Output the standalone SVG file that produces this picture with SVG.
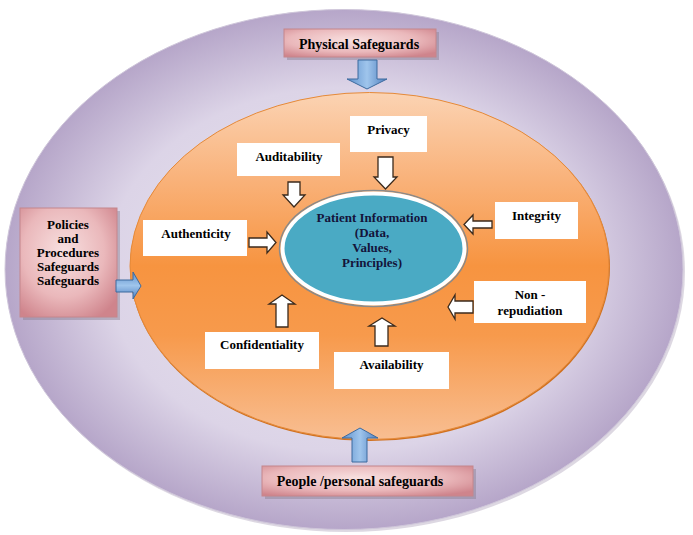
<svg xmlns="http://www.w3.org/2000/svg" width="693" height="535" viewBox="0 0 693 535">
  <defs>
    <radialGradient id="gOuter" cx="0.5" cy="0.5" r="0.5">
      <stop offset="0" stop-color="#ebe7f1"/>
      <stop offset="0.7" stop-color="#dcd4e7"/>
      <stop offset="1" stop-color="#b6a6c9"/>
    </radialGradient>
    <linearGradient id="gOrange" x1="0" y1="0" x2="0" y2="1">
      <stop offset="0" stop-color="#fbd3b3"/>
      <stop offset="0.25" stop-color="#f9b27a"/>
      <stop offset="0.5" stop-color="#f79440"/>
      <stop offset="0.7" stop-color="#f79a4c"/>
      <stop offset="1" stop-color="#f8be92"/>
    </linearGradient>
    <radialGradient id="gPink" cx="0.45" cy="0.4" r="0.7">
      <stop offset="0" stop-color="#f8e0e0"/>
      <stop offset="0.6" stop-color="#eab8bb"/>
      <stop offset="1" stop-color="#cf848c"/>
    </radialGradient>
    <linearGradient id="gBlueV" x1="0" y1="0" x2="1" y2="0">
      <stop offset="0" stop-color="#5d8fcb"/>
      <stop offset="0.5" stop-color="#9fc5ec"/>
      <stop offset="1" stop-color="#4f7fbf"/>
    </linearGradient>
    <linearGradient id="gBlueH" x1="0" y1="0" x2="0" y2="1">
      <stop offset="0" stop-color="#5d8fcb"/>
      <stop offset="0.5" stop-color="#9fc5ec"/>
      <stop offset="1" stop-color="#4f7fbf"/>
    </linearGradient>
  </defs>
  <style>
    .pink { fill: url(#gPink); stroke: #c4868c; stroke-width: 1; }
    .shadow { fill: #8a7f90; opacity: 0.45; }
    .label { fill: #ffffff; }
    .t { font-family: "Liberation Serif", "Times New Roman", serif; font-weight: bold; font-size: 13px; fill: #000; text-anchor: middle; }
    .tb { font-size: 14px; }
    .tc { fill: #14143a; }
    .warr { fill: #ffffff; stroke: #3b2a1c; stroke-width: 1.3; stroke-linejoin: miter; }
    .barr { stroke: #3d6a9e; stroke-width: 1; }
  </style>

  <g id="outer-ring">
    <ellipse cx="346" cy="272" rx="339" ry="260" fill="#9d90ad" opacity="0.35"/>
    <ellipse cx="344" cy="269.5" rx="339" ry="260" fill="url(#gOuter)" stroke="#cfc6da" stroke-width="1"/>
  </g>

  <g id="orange-ring">
    <ellipse cx="370" cy="267" rx="240" ry="174" fill="#d0701e"/>
    <ellipse cx="369.5" cy="266" rx="239.5" ry="173.5" fill="url(#gOrange)" stroke="#e58a3a" stroke-width="1"/>
  </g>

  <g id="patient-information">
    <ellipse cx="373.5" cy="248.5" rx="94" ry="58" fill="none" stroke="#8a8a8a" stroke-width="1.5"/>
    <ellipse cx="373.5" cy="248.5" rx="91" ry="55" fill="#4aaac4" stroke="#ffffff" stroke-width="4"/>
    <text class="t tc" x="372" y="222">Patient Information</text>
    <text class="t tc" x="372" y="237">(Data,</text>
    <text class="t tc" x="372" y="252">Values,</text>
    <text class="t tc" x="372" y="267">Principles)</text>
  </g>

  <g id="physical-safeguards">
    <rect class="shadow" x="287" y="32" width="152" height="28"/>
    <rect class="pink" x="284" y="29" width="152" height="28"/>
    <text class="t tb" x="359" y="48.5">Physical Safeguards</text>
  </g>

  <g id="policies-procedures">
    <rect class="shadow" x="23" y="211" width="97" height="109"/>
    <rect class="pink" x="20" y="208" width="97" height="109"/>
    <text class="t" x="68" y="229">Policies</text>
    <text class="t" x="68" y="243">and</text>
    <text class="t" x="68" y="257">Procedures</text>
    <text class="t" x="68" y="271">Safeguards</text>
    <text class="t" x="68" y="285">Safeguards</text>
  </g>

  <g id="people-safeguards">
    <rect class="shadow" x="265" y="469" width="211" height="30"/>
    <rect class="pink" x="262" y="466" width="211" height="30"/>
    <text class="t tb" x="360" y="486">People /personal safeguards</text>
  </g>

  <g id="privacy">
    <rect class="label" x="350" y="116" width="77" height="36"/>
    <text class="t" x="388.5" y="134">Privacy</text>
  </g>
  <g id="auditability">
    <rect class="label" x="237" y="143" width="103" height="33"/>
    <text class="t" x="289" y="161">Auditability</text>
  </g>
  <g id="authenticity">
    <rect class="label" x="143" y="220" width="104" height="36"/>
    <text class="t" x="196" y="238">Authenticity</text>
  </g>
  <g id="integrity">
    <rect class="label" x="495" y="202" width="83" height="37"/>
    <text class="t" x="536.5" y="220">Integrity</text>
  </g>
  <g id="non-repudiation">
    <rect class="label" x="474" y="281" width="112" height="42"/>
    <text class="t" x="530" y="299">Non -</text>
    <text class="t" x="530" y="315">repudiation</text>
  </g>
  <g id="confidentiality">
    <rect class="label" x="205" y="332" width="114" height="37"/>
    <text class="t" x="262" y="349">Confidentiality</text>
  </g>
  <g id="availability">
    <rect class="label" x="334" y="352" width="115" height="37"/>
    <text class="t" x="391.5" y="369">Availability</text>
  </g>

  <g id="connectors">
    <path class="warr" d="M378,157 H393 V177 H397 L385.5,189 L374,177 H378 Z"/>
    <path class="warr" d="M288,182 H300 V195 H305 L294,207 L283,195 H288 Z"/>
    <path class="warr" d="M249,238 H267 V232 L276,242.5 L267,253 V247 H249 Z"/>
    <path class="warr" d="M492,221 H473 V215 L464,224.5 L473,234 V228 H492 Z"/>
    <path class="warr" d="M473,301 H455 V295 L448,307 L455,319 V313 H473 Z"/>
    <path class="warr" d="M276,327 V304 H269 L282,295 L295,304 H288 V327 Z"/>
    <path class="warr" d="M375,346 V326 H369 L382,318 L395,326 H388 V346 Z"/>
    <path class="barr" fill="url(#gBlueV)" d="M358,60 H377 V79 H387 L367,89 L347,79 H358 Z"/>
    <path class="barr" fill="url(#gBlueH)" d="M116,280 H133 V272 L141,286 L133,299 V292 H116 Z"/>
    <path class="barr" fill="url(#gBlueV)" d="M352,462 V438 H342 L360,428 L378,438 H367 V462 Z"/>
  </g>
</svg>
